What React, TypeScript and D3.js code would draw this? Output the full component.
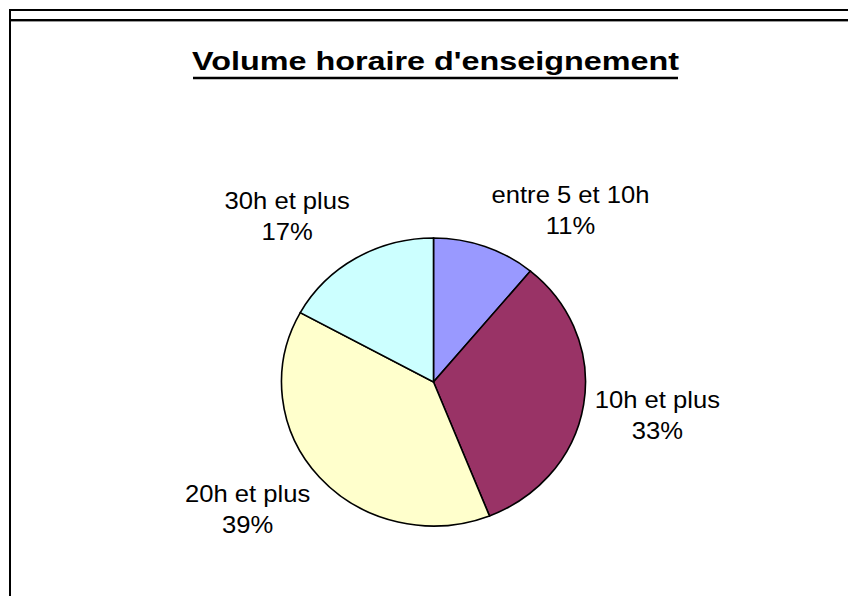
import * as d3 from "d3";

const categories = ["entre 5 et 10h", "10h et plus", "20h et plus", "30h et plus"];
const values = [11, 33, 39, 17];
const colors = ["#9999FF", "#993366", "#FFFFCC", "#CCFFFF"];
const title = "Volume horaire d'enseignement";

const W = 848;
const H = 596;

// pie is a bit wider than tall in the reference
const cx = 433.5;
const cy = 382;
const ry = 144;
const sx = 152 / 144;

// label anchors (deg clockwise from top, radius before x stretch)
const labelAngles = [38.4, 101, 232.5, 318.7];
const labelRadius = [209, 216, 222, 210];

const App = () => {
  const arcs = d3
    .pie<number>()
    .sort(null)
    .value((d) => d)(values);
  const arc = d3.arc<d3.PieArcDatum<number>>().innerRadius(0).outerRadius(ry);

  return (
    <svg
      width={W}
      height={H}
      style={{ position: "absolute", left: 0, top: 0, background: "#fff" }}
      fontFamily="'Liberation Sans', Arial, sans-serif"
    >
      {/* frame */}
      <line x1={9} x2={W} y1={10} y2={10} stroke="#000" strokeWidth={2} />
      <line x1={10} x2={W} y1={20} y2={20} stroke="#000" strokeWidth={2} />
      <line x1={11} x2={W} y1={21.5} y2={21.5} stroke="#999" strokeWidth={1} />
      <line x1={10} x2={10} y1={9} y2={H} stroke="#000" strokeWidth={2} />

      {/* title */}
      <text
        x={435.5}
        y={69.5}
        textAnchor="middle"
        fontSize={26}
        fontWeight="bold"
        textLength={487}
        lengthAdjust="spacingAndGlyphs"
      >
        {title}
      </text>
      <line x1={193} x2={678} y1={78} y2={78} stroke="#000" strokeWidth={2.7} />

      <g transform={`translate(${cx},${cy}) scale(${sx},1)`}>
        {arcs.map((a, i) => (
          <path
            key={categories[i]}
            d={arc(a) ?? ""}
            fill={colors[i]}
            stroke="#000"
            strokeWidth={1.6}
            vectorEffect="non-scaling-stroke"
          />
        ))}
      </g>

      {arcs.map((a, i) => {
        const [px, py] = d3.pointRadial((labelAngles[i] * Math.PI) / 180, labelRadius[i]);
        const x = cx + px * sx;
        const y = cy + py;
        return (
          <g key={categories[i]} transform={`translate(${x},${y}) scale(1.09,1)`}>
            <text y={-15} textAnchor="middle" fontSize={23.5} fill="#000">
              {categories[i]}
            </text>
            <text y={15.5} textAnchor="middle" fontSize={23.5} fill="#000">
              {`${values[i]}%`}
            </text>
          </g>
        );
      })}
    </svg>
  );
};

export default App;
